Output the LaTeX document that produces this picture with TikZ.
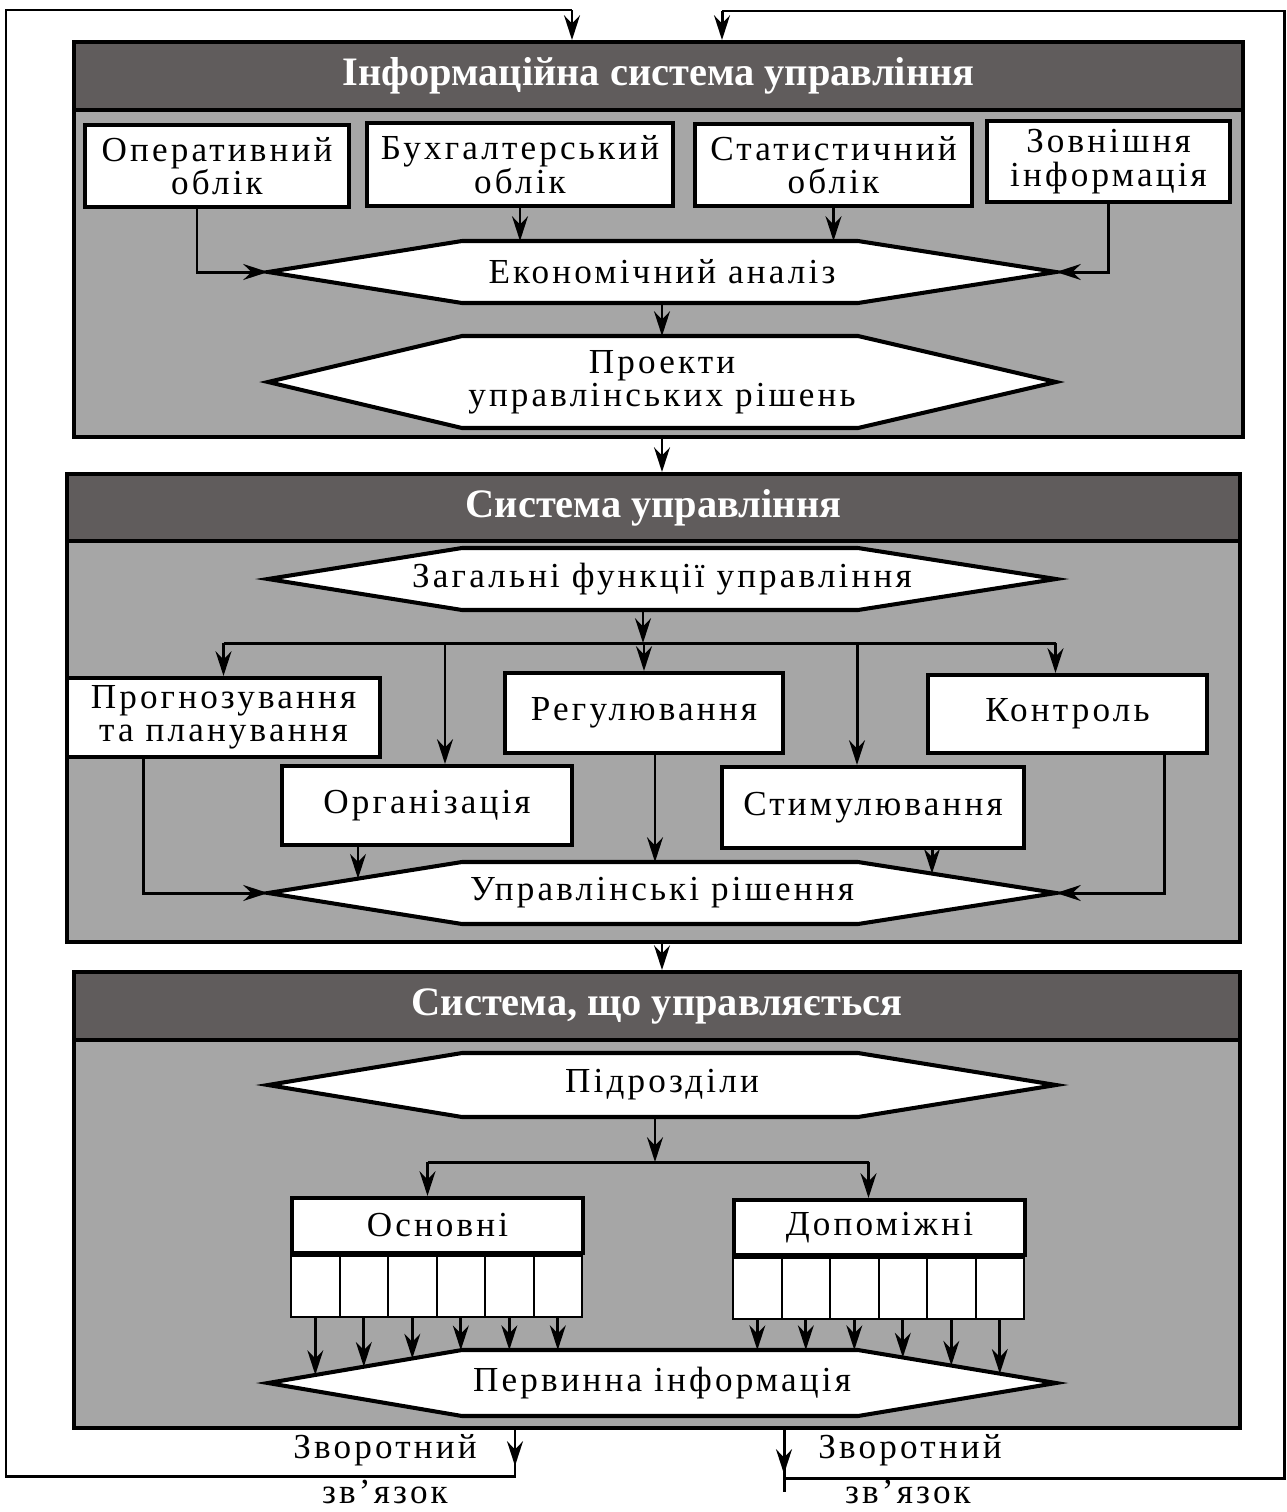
\documentclass[tikz,border=0pt]{standalone}
\usepackage{fontspec}
\setmainfont{Liberation Serif}
\usepackage{tikz}
\usetikzlibrary{arrows.meta}
\usetikzlibrary{calc,positioning,intersections}

\definecolor{headgrey}{RGB}{96,92,92}
\definecolor{bodygrey}{RGB}{166,166,166}

\newfontfamily\spacedfont[LetterSpace=9]{Liberation Serif}
\newcommand{\txtsize}{\spacedfont\fontsize{20}{19}\selectfont}

% hexagon: name, y of centre, half height, text
\newcommand{\hexa}[4]{%
  \path[hexline, name path=#1p] (268,#2) -- (462,#2-#3) -- (858,#2-#3) -- (1056,#2)
    -- (858,#2+#3) -- (462,#2+#3) -- cycle;
  \coordinate (#1L) at (268,#2);
  \coordinate (#1R) at (1056,#2);
  \coordinate (#1T) at (662,#2-#3);
  \coordinate (#1B) at (662,#2+#3);
  \node[hextext] (#1) at (662,#2) {#4};
}
% vertical arrow from a point down to a named path
\newcommand{\dropto}[2]{%
  \path[name path=drop] #1 -- ++(0,200);
  \draw[arr, name intersections={of=drop and #2, sort by=drop}] #1 -- (intersection-1);
}

\begin{document}
\begin{tikzpicture}[x=0.02cm, y=-0.02cm,
    >={Stealth[length=14pt,width=9pt]},
    panel/.style={draw, fill=bodygrey, line width=2.3pt, inner sep=0pt},
    header/.style={draw, fill=headgrey, line width=2.3pt, text=white, anchor=north,
      inner sep=0pt, font=\fontsize{23}{26}\bfseries\selectfont},
    block/.style={draw, fill=white, line width=2.3pt, align=center, inner sep=0pt, font=\txtsize},
    cell/.style={draw, fill=white, line width=1.2pt, minimum width=0.97cm, minimum height=1.22cm,
      inner sep=0pt, anchor=north west},
    hexline/.style={draw, fill=white, line width=2.3pt},
    hextext/.style={align=center, inner sep=0pt, font=\txtsize},
    arr/.style={->, line width=1.7pt},
    line/.style={line width=1.7pt},
    lbl/.style={inner sep=0pt, font=\txtsize}]

    \useasboundingbox (0,0) rectangle (1287,1512);

    % panels
    \node[panel, minimum width=23.38cm, minimum height=7.9cm] (sys1) at (658.5,239.5) {};
    \node[header, minimum width=23.38cm, minimum height=1.36cm] (head1) at (sys1.north) {Інформаційна система управління};
    \node[panel, minimum width=23.46cm, minimum height=9.36cm] (sys2) at (653.5,708) {};
    \node[header, minimum width=23.46cm, minimum height=1.34cm] (head2) at (sys2.north) {Система управління};
    \node[panel, minimum width=23.32cm, minimum height=9.12cm] (sys3) at (657,1200) {};
    \node[header, minimum width=23.32cm, minimum height=1.36cm] (head3) at (sys3.north) {Система, що управляється};

    % information system
    \node[block, minimum width=5.3cm, minimum height=1.64cm] (oper) at (217,166) {Оперативний\\облік};
    \node[block, minimum width=6.12cm, minimum height=1.66cm] (bukh) at (520,164.5) {Бухгалтерський\\облік};
    \node[block, minimum width=5.54cm, minimum height=1.64cm] (stat) at (833.5,165) {Статистичний\\облік};
    \node[block, minimum width=4.86cm, minimum height=1.62cm] (zovn) at (1108.5,161.5) {Зовнішня\\інформація};

    \hexa{econ}{272}{31}{Економічний аналіз}
    \hexa{proekt}{382}{46}{Проекти\\управлінських рішень}

    \draw[arr] ($(oper.south)+(-20,0)$) |- (econL);
    \draw[arr] (bukh.south) -- (bukh.south |- econT);
    \draw[arr] (stat.south) -- (stat.south |- econT);
    \draw[arr] (zovn.south) |- (econR);
    \draw[arr] (econB) -- (proektT);
    \draw[arr] (proektB |- sys1.south) -- (proektB |- sys2.north);

    % management system
    \hexa{zag}{579}{31}{Загальні функції управління}

    \node[block, minimum width=6.26cm, minimum height=1.58cm] (prog) at (223.5,717.5) {Прогнозування\\та планування};
    \node[block, minimum width=5.56cm, minimum height=1.6cm] (reg) at (644,713) {Регулювання};
    \node[block, minimum width=5.58cm, minimum height=1.56cm] (kontr) at (1067.5,714) {Контроль};
    \node[block, minimum width=5.8cm, minimum height=1.58cm] (org) at (427,805.5) {Організація};
    \node[block, minimum width=6.04cm, minimum height=1.62cm] (stim) at (873,807.5) {Стимулювання};

    \hexa{upr}{893}{31}{Управлінські рішення}

    \coordinate (bus1) at (643,643);
    \coordinate (orgin) at ($(org.north)+(18,0)$);
    \coordinate (stimin) at ($(stim.north)+(-16,0)$);
    \coordinate (kontrin) at ($(kontr.north)+(-12,0)$);
    \draw[arr] (zagB -| bus1) -- (bus1);
    \draw[line] (bus1 -| prog.north) -- (bus1 -| kontrin);
    \draw[arr] (bus1 -| prog.north) -- (prog.north);
    \draw[arr] (bus1 -| orgin) -- (orgin);
    \draw[arr] (bus1 -| reg.north) -- (reg.north);
    \draw[arr] (bus1 -| stimin) -- (stimin);
    \draw[arr] (bus1 -| kontrin) -- (kontrin);

    \draw[arr] ($(prog.south)+(-80,0)$) |- (uprL);
    \dropto{($(org.south)+(-69,0)$)}{uprp}
    \dropto{($(reg.south)+(11,0)$)}{uprp}
    \dropto{($(stim.south)+(59,0)$)}{uprp}
    \draw[arr] ($(kontr.south)+(97,0)$) |- (uprR);
    \draw[arr] (uprB |- sys2.south) -- (uprB |- sys3.north);

    % managed system
    \hexa{pidr}{1085}{32}{Підрозділи}

    \node[block, minimum width=5.82cm, minimum height=1.1cm] (osn) at (437.5,1225.5) {Основні};
    \node[block, minimum width=5.82cm, minimum height=1.1cm] (dop) at (879.5,1227.5) {Допоміжні};

    \hexa{perv}{1383}{33}{Первинна інформація}

    \coordinate (bus2) at (655,1162);
    \coordinate (osnin) at ($(osn.north)+(-10,0)$);
    \coordinate (dopin) at ($(dop.north)+(-11,0)$);
    \draw[arr] (pidrB -| bus2) -- (bus2);
    \draw[line] (bus2 -| osnin) -- (bus2 -| dopin);
    \draw[arr] (bus2 -| osnin) -- (osnin);
    \draw[arr] (bus2 -| dopin) -- (dopin);

    \foreach \i in {1,...,6} {
        \node[cell] (o\i) at ($(osn.south west)+({(\i-1)*48.5},0)$) {};
        \node[cell] (d\i) at ($(dop.south west)+({(\i-1)*48.5},0)$) {};
        \dropto{(o\i.south)}{pervp}
        \dropto{(d\i.south)}{pervp}
    }

    % feedback
    \coordinate (fbl) at (515,1476);
    \coordinate (fbr) at (784,1478);
    \coordinate (cornl) at (6,10);
    \coordinate (cornr) at (1284,11);
    \coordinate (inl) at (572,10);
    \coordinate (inr) at (722,11);

    \draw[line] (sys3.south -| fbl) -- (fbl) -| (cornl) -- (inl);
    \draw[arr] (sys3.south -| fbl) -- ++(0,36);
    \draw[arr] (inl) -- (inl |- sys1.north);

    \draw[line] (sys3.south -| fbr) -- ++(0,62);
    \draw[line] (fbr) -| (cornr) -- (inr);
    \draw[arr] (sys3.south -| fbr) -- ++(0,44);
    \draw[arr] (inr) -- (inr |- sys1.north);

    \node[lbl] (fbl1) at (385,1450) {Зворотний};
    \node[lbl] (fbl2) at (385,1492) {зв’язок};
    \node[lbl] (fbr1) at (910,1450) {Зворотний};
    \node[lbl] (fbr2) at (908,1492) {зв’язок};

\end{tikzpicture}
\end{document}
